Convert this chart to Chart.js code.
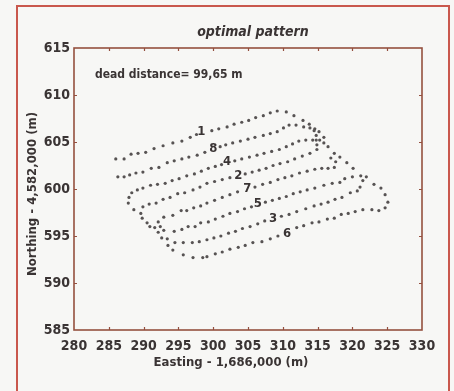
<!DOCTYPE html>
<html>
<head>
<meta charset="utf-8">
<script src="https://cdn.jsdelivr.net/npm/chart.js@4.4.1/dist/chart.umd.min.js"></script>
<style>
    html, body { margin: 0; padding: 0; background: #f7f7f5; }
    #wrap { position: relative; width: 454px; height: 391px; overflow: hidden; }
    #frame {
        position: absolute; left: 16px; top: 5px; width: 430px; height: 400px;
        border: 2px solid #c9584d; border-bottom: none;
    }
    canvas { position: absolute; left: 0; top: 0; }
</style>
</head>
<body>
<div id="wrap">
    <div id="frame"></div>
    <canvas id="patternChart" width="454" height="391"></canvas>
</div>
<script>
// Field pass pattern, Easting/Northing offsets in metres

const xTicks = [280, 285, 290, 295, 300, 305, 310, 315, 320, 325, 330];
const yTicks = [585, 590, 595, 600, 605, 610, 615];

// pass numbers written on the rows, top row to bottom row
const trackLabels = ['1', '8', '4', '2', '7', '5', '3', '6'];
const labelX = [298.3, 300.0, 302.0, 303.6, 304.9, 306.4, 308.6, 310.6];
const labelY = [606.1, 604.3, 602.9, 601.4, 600.0, 598.4, 596.9, 595.3];

const deadDistance = 'dead distance= 99,65 m';

// pass 1 (top row) and its turn down the right side
const track1 = [
    [286.0, 603.2], [287.2, 603.2], [288.2, 603.7], [289.2, 603.8], [290.3, 603.9],
    [291.5, 604.3], [292.8, 604.6], [294.2, 604.9], [295.5, 605.1], [296.7, 605.5],
    [297.6, 605.8], [299.8, 606.2], [300.8, 606.4], [302.0, 606.6], [303.0, 606.9],
    [304.1, 607.1], [305.1, 607.3], [306.1, 607.6], [307.2, 607.8], [308.2, 608.1],
    [309.2, 608.3], [310.5, 608.2], [311.6, 607.8], [312.9, 607.3], [313.8, 606.9],
    [314.5, 606.2], [314.8, 605.7], [314.8, 605.2], [314.9, 604.7]
];

// pass 8 (second row)
const track8 = [
    [313.9, 606.5], [313.0, 606.6], [311.9, 606.8], [310.9, 606.8], [310.1, 606.5],
    [309.2, 606.1], [308.2, 605.9], [307.2, 605.7], [306.0, 605.5], [305.0, 605.3],
    [303.9, 605.1], [302.8, 604.9], [301.8, 604.7], [301.0, 604.5], [298.8, 603.9],
    [297.7, 603.6], [296.5, 603.4], [295.5, 603.2], [294.4, 603.0], [293.4, 602.8],
    [292.2, 602.3], [291.1, 602.2], [289.9, 601.8], [288.9, 601.7], [288.0, 601.5],
    [287.2, 601.3], [286.3, 601.3]
];

// pass 4 (third row)
const track4 = [
    [314.3, 605.2], [313.3, 605.2], [312.3, 605.1], [311.4, 604.8], [310.5, 604.5],
    [309.5, 604.2], [308.4, 604.0], [307.3, 603.8], [306.3, 603.6], [305.2, 603.4],
    [304.1, 603.2], [303.1, 603.0], [301.2, 602.6], [300.3, 602.4], [299.3, 602.2],
    [298.3, 601.9], [297.3, 601.6], [296.2, 601.4], [295.1, 601.1], [294.1, 600.9],
    [293.1, 600.6], [292.0, 600.5], [291.0, 600.4], [289.9, 600.1]
];

// pass 2 (fourth row)
const track2 = [
    [314.9, 604.2], [313.9, 603.8], [312.8, 603.5], [311.7, 603.2], [310.7, 602.9],
    [309.6, 602.7], [308.6, 602.5], [307.6, 602.2], [306.6, 602.0], [305.6, 601.8],
    [304.6, 601.6], [302.4, 601.2], [301.3, 601.0], [300.2, 600.8], [299.1, 600.6],
    [298.1, 600.2], [297.1, 599.9], [295.9, 599.6], [294.9, 599.5], [293.8, 599.1],
    [292.8, 598.9], [291.8, 598.5], [290.8, 598.4], [289.9, 598.1]
];

// pass 7 (fifth row)
const track7 = [
    [292.1, 596.5], [292.9, 597.0], [294.2, 597.2], [295.4, 597.7], [296.2, 597.7],
    [297.2, 598.0], [298.2, 598.2], [299.1, 598.5], [300.2, 598.8], [301.3, 599.1],
    [302.4, 599.4], [303.5, 599.7], [306.0, 600.2], [307.1, 600.5], [308.2, 600.7],
    [309.3, 601.0], [310.3, 601.2], [311.3, 601.4], [312.4, 601.7], [313.5, 601.9],
    [314.6, 602.1], [315.6, 602.2], [316.5, 602.2], [317.4, 602.3], [317.6, 602.9]
];

// pass 5 (sixth row)
const track5 = [
    [292.4, 596.0], [292.9, 595.6], [294.4, 595.5], [295.5, 595.7], [296.4, 596.0],
    [297.4, 596.0], [298.2, 596.4], [299.3, 596.5], [300.3, 596.8], [301.4, 597.1],
    [302.4, 597.4], [303.5, 597.6], [304.5, 597.9], [305.5, 598.1], [307.5, 598.6],
    [308.5, 598.8], [309.5, 599.0], [310.5, 599.2], [311.5, 599.5], [312.5, 599.7],
    [313.5, 599.9], [314.6, 600.1], [315.9, 600.4], [317.1, 600.6], [318.2, 600.7],
    [318.9, 601.1], [320.0, 601.3], [321.2, 601.4], [322.0, 601.3]
];

// pass 3 (seventh row)
const track3 = [
    [292.6, 594.8], [293.4, 594.7], [294.5, 594.3], [295.7, 594.3], [297.0, 594.3],
    [298.0, 594.4], [299.1, 594.6], [300.1, 594.8], [301.1, 595.0], [302.2, 595.3],
    [303.2, 595.5], [304.2, 595.8], [305.3, 596.0], [306.4, 596.3], [307.4, 596.6],
    [309.8, 597.1], [310.9, 597.3], [312.0, 597.6], [313.3, 597.9], [314.5, 598.2],
    [315.5, 598.4], [316.5, 598.6], [317.5, 598.9], [318.5, 599.1], [319.7, 599.6],
    [320.7, 599.8]
];

// pass 6 (bottom row)
const track6 = [
    [324.7, 598.0], [323.8, 597.7], [322.8, 597.8], [321.5, 597.8], [320.4, 597.6],
    [319.4, 597.4], [318.4, 597.3], [317.4, 596.9], [316.4, 596.8], [315.2, 596.5],
    [314.2, 596.4], [313.0, 596.1], [312.0, 595.9], [309.3, 595.0], [308.2, 594.7],
    [307.0, 594.4], [305.7, 594.3], [304.6, 594.0], [303.6, 593.8], [302.4, 593.6],
    [301.3, 593.3], [300.3, 593.1], [299.1, 592.8], [298.5, 592.7], [297.1, 592.7],
    [295.7, 593.0]
];

// headland turns
const rightTurns = [
    [323.1, 600.5], [324.1, 600.1], [324.7, 599.4], [325.1, 598.6],
    [321.1, 600.2], [321.5, 600.9], [320.1, 602.2], [319.2, 602.8], [318.2, 603.4],
    [317.4, 603.8], [316.5, 604.5], [315.9, 604.9], [315.3, 605.2],
    [316.9, 603.3], [315.9, 605.5], [315.2, 606.1], [314.6, 606.4]
];
const leftTurns = [
    [289.1, 599.9], [288.3, 599.6], [287.9, 599.1], [287.8, 598.5], [288.6, 597.8],
    [289.6, 597.4], [289.8, 596.9], [290.5, 596.4], [290.9, 596.0], [291.6, 595.9],
    [292.1, 595.4], [293.5, 594.0], [294.2, 593.5]
];

const allPasses = [track1, track8, track4, track2, track7, track5, track3, track6, rightTurns, leftTurns];

const FONT = "'Liberation Sans Narrow', 'DejaVu Sans Condensed', sans-serif";
const axisColor = '#94503f';
const textColor = '#3a3434';

// Box, inward ticks and all the texts
const decorations = {
    id: 'decorations',
    afterDraw(chart) {
        const { ctx, chartArea: a, scales: { x, y } } = chart;
        ctx.save();
        ctx.strokeStyle = axisColor;
        ctx.lineWidth = 1.6;
        ctx.strokeRect(a.left, a.top, a.right - a.left, a.bottom - a.top);

        ctx.lineWidth = 1.2;
        ctx.beginPath();
        xTicks.slice(1, -1).forEach(v => {
            const px = Math.round(x.getPixelForValue(v)) + 0.5;
            ctx.moveTo(px, a.bottom); ctx.lineTo(px, a.bottom - 3);
            ctx.moveTo(px, a.top); ctx.lineTo(px, a.top + 3);
        });
        yTicks.slice(1, -1).forEach(v => {
            const py = Math.round(y.getPixelForValue(v)) + 0.5;
            ctx.moveTo(a.left, py); ctx.lineTo(a.left + 3, py);
            ctx.moveTo(a.right, py); ctx.lineTo(a.right - 3, py);
        });
        ctx.stroke();

        ctx.fillStyle = textColor;
        ctx.textAlign = 'center';
        ctx.textBaseline = 'middle';
        ctx.font = 'bold 13px ' + FONT;
        trackLabels.forEach((t, i) => {
            ctx.fillText(t, x.getPixelForValue(labelX[i]), y.getPixelForValue(labelY[i]));
        });

        ctx.textAlign = 'left';
        ctx.font = 'bold 12px ' + FONT;
        ctx.fillText(deadDistance, a.left + 21, a.top + 27);

        ctx.textAlign = 'center';
        ctx.font = 'italic bold 14px ' + FONT;
        ctx.fillText('optimal pattern', (a.left + a.right) / 2 + 5, a.top - 16);

        ctx.font = 'bold 13px ' + FONT;
        ctx.fillText('Easting - 1,686,000 (m)', (a.left + a.right) / 2 - 17, a.bottom + 33);

        ctx.translate(33, (a.top + a.bottom) / 2 + 5);
        ctx.rotate(-Math.PI / 2);
        ctx.fillText('Northing - 4,582,000 (m)', 0, 0);
        ctx.restore();
    }
};

new Chart(document.getElementById('patternChart'), {
    type: 'scatter',
    data: {
        datasets: allPasses.map(pass => ({
            data: pass.map(p => ({ x: p[0], y: p[1] })),
            pointRadius: 1.6,
            pointBackgroundColor: '#575353',
            pointBorderWidth: 0,
            showLine: false
        }))
    },
    options: {
        responsive: false,
        animation: false,
        layout: { padding: { left: 0, top: 48, right: 32, bottom: 0 } },
        plugins: {
            legend: { display: false },
            tooltip: { enabled: false }
        },
        scales: {
            x: {
                type: 'linear',
                min: 280,
                max: 330,
                afterBuildTicks: s => { s.ticks = xTicks.map(v => ({ value: v })); },
                afterFit: s => { s.height = 61; },
                grid: { display: false, drawTicks: false },
                border: { display: false },
                ticks: {
                    padding: 8,
                    maxRotation: 0,
                    color: textColor,
                    font: { family: FONT, size: 14, weight: 'bold' }
                }
            },
            y: {
                type: 'linear',
                min: 585,
                max: 615,
                afterBuildTicks: s => { s.ticks = yTicks.map(v => ({ value: v })); },
                afterFit: s => { s.width = 74; },
                grid: { display: false, drawTicks: false },
                border: { display: false },
                ticks: {
                    padding: 4,
                    color: textColor,
                    font: { family: FONT, size: 14, weight: 'bold' }
                }
            }
        }
    },
    plugins: [decorations]
});
</script>
</body>
</html>
